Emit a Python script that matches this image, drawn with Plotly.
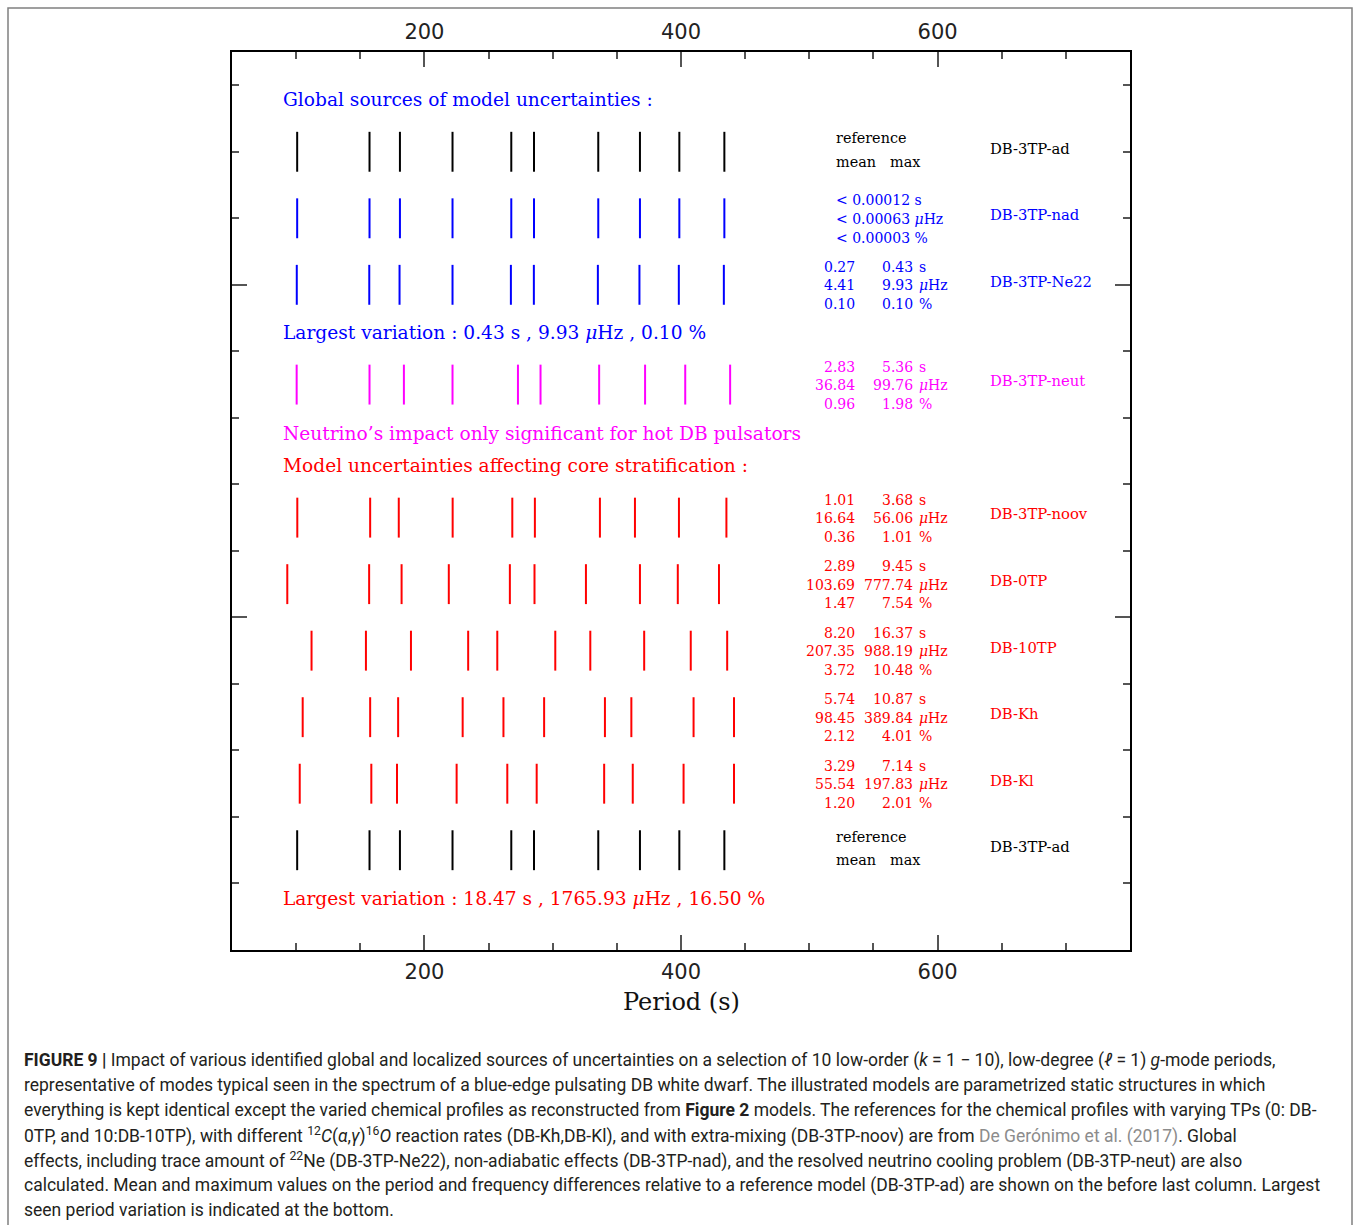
import plotly.graph_objects as go

# ---------------- data ----------------
models = ["DB-3TP-ad", "DB-3TP-nad", "DB-3TP-Ne22", "DB-3TP-neut", "DB-3TP-noov",
          "DB-0TP", "DB-10TP", "DB-Kh", "DB-Kl", "DB-3TP-ad"]
row_y = [12, 11, 10, 8.5, 6.5, 5.5, 4.5, 3.5, 2.5, 1.5]
row_colors = ["black", "blue", "blue", "magenta", "red", "red", "red", "red", "red", "black"]

periods_ad = [100.8, 157.2, 180.9, 221.9, 267.7, 285.4, 335.5, 368.0, 398.7, 433.8]
periods_nad = [100.8, 157.2, 180.9, 221.9, 267.7, 285.4, 335.5, 368.0, 398.7, 433.8]
periods_ne22 = [100.5, 157.0, 180.6, 221.9, 267.4, 285.3, 335.2, 367.6, 398.3, 433.4]
periods_neut = [100.4, 157.2, 184.0, 221.9, 272.9, 290.5, 336.2, 372.0, 403.3, 438.3]
periods_noov = [100.9, 157.7, 180.0, 222.0, 268.5, 286.1, 336.8, 364.1, 398.4, 435.4]
periods_0tp = [93.1, 156.9, 182.2, 219.0, 266.6, 285.8, 325.9, 368.0, 397.5, 429.6]
periods_10tp = [112.0, 154.4, 189.5, 234.1, 256.8, 302.0, 329.3, 371.3, 407.6, 436.0]
periods_kh = [105.1, 157.7, 179.5, 229.8, 261.6, 293.3, 340.7, 361.3, 409.8, 441.3]
periods_kl = [102.8, 158.6, 178.6, 225.1, 264.6, 287.5, 340.1, 362.4, 402.0, 441.3]
periods_ad_bottom = [100.8, 157.2, 180.9, 221.9, 267.7, 285.4, 335.5, 368.0, 398.7, 433.8]

all_periods = [periods_ad, periods_nad, periods_ne22, periods_neut, periods_noov,
               periods_0tp, periods_10tp, periods_kh, periods_kl, periods_ad_bottom]

# mean / max differences: (s, uHz, %) for rows Ne22 .. Kl
stat_rows = [2, 3, 4, 5, 6, 7, 8]
mean_s = [0.27, 2.83, 1.01, 2.89, 8.20, 5.74, 3.29]
mean_uhz = [4.41, 36.84, 16.64, 103.69, 207.35, 98.45, 55.54]
mean_pct = [0.10, 0.96, 0.36, 1.47, 3.72, 2.12, 1.20]
max_s = [0.43, 5.36, 3.68, 9.45, 16.37, 10.87, 7.14]
max_uhz = [9.93, 99.76, 56.06, 777.74, 988.19, 389.84, 197.83]
max_pct = [0.10, 1.98, 1.01, 7.54, 10.48, 4.01, 2.01]

nad_lines = ["< 0.00012 s", "< 0.00063 <i>μ</i>Hz", "< 0.00003 %"]
units = ["s", "<i>μ</i>Hz", "%"]

x_ticks = [200, 400, 600]

section_texts = [
    ("Global sources of model uncertainties :", "blue", 12.78),
    ("Largest variation : 0.43 s , 9.93 <i>μ</i>Hz , 0.10 %", "blue", 9.28),
    ("Neutrino’s impact only significant for hot DB pulsators", "magenta", 7.77),
    ("Model uncertainties affecting core stratification :", "red", 7.28),
    ("Largest variation : 18.47 s , 1765.93 <i>μ</i>Hz , 16.50 %", "red", 0.77),
]

caption_lines = [
    "<b>FIGURE 9 |</b> Impact of various identified global and localized sources of uncertainties on a selection of 10 low-order (<i>k</i> = 1 − 10), low-degree (<i>ℓ</i> = 1) <i>g</i>-mode periods,",
    "representative of modes typical seen in the spectrum of a blue-edge pulsating DB white dwarf. The illustrated models are parametrized static structures in which",
    "everything is kept identical except the varied chemical profiles as reconstructed from <b>Figure 2</b> models. The references for the chemical profiles with varying TPs (0: DB-",
    "0TP, and 10:DB-10TP), with different <sup>12</sup><i>C</i>(<i>α</i>,<i>γ</i>)<sup>16</sup><i>O</i> reaction rates (DB-Kh,DB-Kl), and with extra-mixing (DB-3TP-noov) are from <span style='color:#8c8c8c'>De Gerónimo et al. (2017)</span>. Global",
    "effects, including trace amount of <sup>22</sup>Ne (DB-3TP-Ne22), non-adiabatic effects (DB-3TP-nad), and the resolved neutrino cooling problem (DB-3TP-neut) are also",
    "calculated. Mean and maximum values on the period and frequency differences relative to a reference model (DB-3TP-ad) are shown on the before last column. Largest",
    "seen period variation is indicated at the bottom.",
]

# ---------------- figure ----------------
W, H = 1354, 1225
ML, MR, MT, MB = 232, 224, 52, 275
PW, PH = W - ML - MR, H - MT - MB

fig = go.Figure()

HALF = 0.3
for periods, yc, col in zip(all_periods, row_y, row_colors):
    xs, ys = [], []
    for p in periods:
        xs += [p, p, None]
        ys += [yc - HALF, yc + HALF, None]
    fig.add_trace(go.Scatter(x=xs, y=ys, mode="lines", line=dict(color=col, width=2),
                             showlegend=False, hoverinfo="skip"))

# dummy trace for top axis
fig.add_trace(go.Scatter(x=[None], y=[None], xaxis="x2", yaxis="y", showlegend=False))

SERIF = "DejaVu Serif"
ann = []


def txt(x, y, text, color, size=14, xanchor="left", family=SERIF):
    ann.append(dict(x=x, y=y, xref="x", yref="y", text=text, showarrow=False,
                    xanchor=xanchor, yanchor="middle", borderpad=0, borderwidth=0,
                    font=dict(family=family, size=size, color=color)))


X_MEAN_R = 535.5
X_MAXN_R = 580.8
X_UNIT_L = 585.5
X_LEFT_COL = 520.8
X_MAXHDR = 562.9
X_MODEL = 640.8
X_SECTION = 89.8
LINE_OFF = [0.27, -0.01, -0.29]

# model labels
for name, yc, col in zip(models, row_y, row_colors):
    txt(X_MODEL, yc + 0.055, name, col, size=14.8)

# reference headers (rows 0 and 9)
for idx in (0, 9):
    yc = row_y[idx]
    txt(X_LEFT_COL, yc + 0.205, "reference", "black", size=14.4)
    txt(X_LEFT_COL, yc - 0.15, "mean", "black", size=14.4)
    txt(X_MAXHDR, yc - 0.15, "max", "black", size=14.4)

# nad row
for off, line in zip(LINE_OFF, nad_lines):
    txt(X_LEFT_COL, row_y[1] + off, line, "blue")

# stats rows
for i, r in enumerate(stat_rows):
    yc = row_y[r]
    col = row_colors[r]
    means = [mean_s[i], mean_uhz[i], mean_pct[i]]
    maxs = [max_s[i], max_uhz[i], max_pct[i]]
    for off, mv, xv, u in zip(LINE_OFF, means, maxs, units):
        txt(X_MEAN_R, yc + off, f"{mv:.2f}", col, xanchor="right")
        txt(X_MAXN_R, yc + off, f"{xv:.2f}", col, xanchor="right")
        txt(X_UNIT_L, yc + off, u, col)

# section texts
for text, col, yv in section_texts:
    txt(X_SECTION, yv, text, col, size=18.6)

# axis title
ann.append(dict(x=0.5, y=(MB - 275 - 52) / PH, xref="paper", yref="paper", text="Period (s)",
                showarrow=False, xanchor="center", yanchor="middle",
                font=dict(family=SERIF, size=24, color="#111")))

# caption
for k, line in enumerate(caption_lines):
    py = 1060 + 25 * k
    ann.append(dict(x=(24 - ML) / PW, y=(H - MB - py) / PH, xref="paper", yref="paper",
                    text=line, showarrow=False, xanchor="left", yanchor="middle",
                    borderpad=0, borderwidth=0,
                    font=dict(family="Roboto", size=17.5, color="#231f20")))

fig.update_layout(annotations=ann)

# outer frame
fig.add_shape(type="rect", xref="paper", yref="paper",
              x0=(8 - ML) / PW, x1=(1352 - ML) / PW,
              y0=(H - MB - 1240) / PH, y1=(H - MB - 8) / PH,
              line=dict(color="#808080", width=1.5), layer="below")

tickfont = dict(family="DejaVu Sans", size=21, color="#222")
fig.update_layout(
    width=W, height=H,
    margin=dict(l=ML, r=MR, t=MT, b=MB),
    paper_bgcolor="white", plot_bgcolor="white",
    xaxis=dict(range=[50, 750], tick0=0, dtick=200, ticks="inside", ticklen=15,
               tickwidth=1.5, tickcolor="#555", showline=True, linecolor="black",
               linewidth=2, mirror="ticks", showgrid=False, zeroline=False,
               tickfont=tickfont, ticklabelstandoff=2,
               minor=dict(dtick=50, tick0=0, ticks="inside", ticklen=7,
                          tickwidth=1.5, tickcolor="#555", showgrid=False)),
    xaxis2=dict(range=[50, 750], overlaying="x", side="top", tickvals=x_ticks,
                ticks="", showline=False, showgrid=False, zeroline=False,
                tickfont=tickfont, ticklabelstandoff=8),
    yaxis=dict(range=[0, 13.5], tick0=0, dtick=5, ticks="inside", ticklen=15,
               tickwidth=1.5, tickcolor="#555", showline=True, linecolor="black",
               linewidth=2, mirror="ticks", showgrid=False, zeroline=False,
               showticklabels=False,
               minor=dict(dtick=1, tick0=0, ticks="inside", ticklen=7,
                          tickwidth=1.5, tickcolor="#555", showgrid=False)),
    showlegend=False,
)

fig.write_html("out.html")
